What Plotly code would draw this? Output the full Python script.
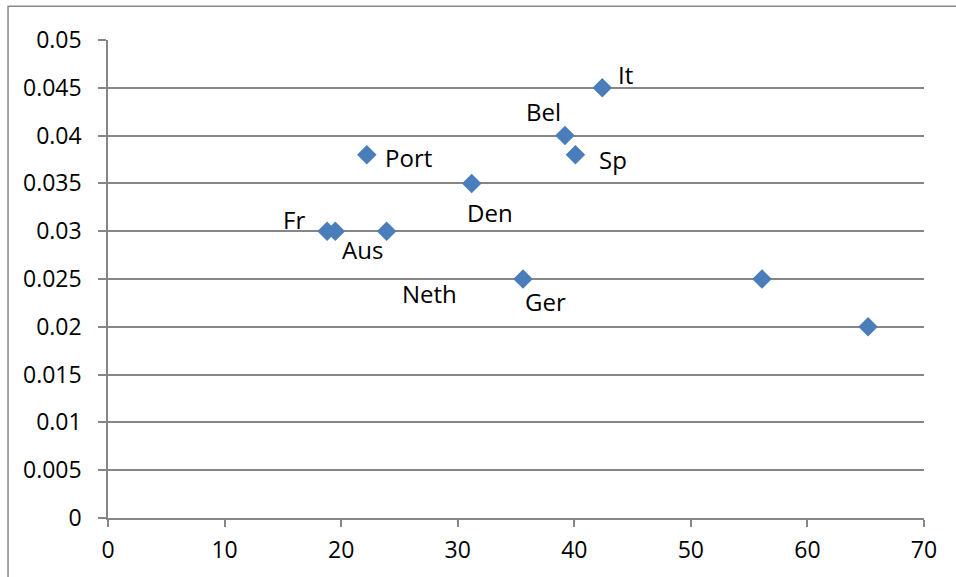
import plotly.graph_objects as go

# ---- data ----
x_vals = [18.8, 19.5, 23.9, 22.2, 31.2, 35.6, 39.2, 40.1, 42.4, 56.1, 65.2]
y_vals = [0.030, 0.030, 0.030, 0.038, 0.035, 0.025, 0.040, 0.038, 0.045, 0.025, 0.020]
point_labels = ["Fr", "Aus", "Neth", "Port", "Den", "Ger", "Bel", "Sp", "It", "", ""]
y_tick_vals = [0, 0.005, 0.01, 0.015, 0.02, 0.025, 0.03, 0.035, 0.04, 0.045, 0.05]
y_tick_text = ["0", "0.005", "0.01", "0.015", "0.02", "0.025", "0.03", "0.035", "0.04", "0.045", "0.05"]
x_tick_vals = [0, 10, 20, 30, 40, 50, 60, 70]

# ---- label placement (pixel shifts from each point) ----
label_shifts = [(-33, 12), (27, -18), (43, -62), (42, -3), (18, -29),
                (23, -22), (-21, 24), (38, -5), (23, 13), (0, 0), (0, 0)]

FONT = "Open Sans"
GRID = "#868686"

fig = go.Figure()
fig.add_trace(go.Scatter(
    x=x_vals, y=y_vals, mode="markers",
    marker=dict(symbol="diamond", size=15, color="#4A7EBB",
                line=dict(width=0)),
    showlegend=False, hoverinfo="skip",
))

for xv, yv, lab, (dx, dy) in zip(x_vals, y_vals, point_labels, label_shifts):
    if lab:
        fig.add_annotation(x=xv, y=yv, text=lab, showarrow=False,
                           xshift=dx, yshift=dy,
                           font=dict(family=FONT, size=24, color="#000000"))

# chart-area border (cropped on right/bottom like the reference)
fig.add_shape(type="rect", xref="paper", yref="paper",
              x0=-0.1225, x1=1.08, y0=-0.16, y1=1.0708,
              line=dict(color="#898989", width=1.5), fillcolor="rgba(0,0,0,0)",
              layer="below")

fig.update_layout(
    width=956, height=577,
    margin=dict(l=108, r=32, t=40, b=57),
    paper_bgcolor="white", plot_bgcolor="white",
    font=dict(family=FONT, size=23, color="#000000"),
    xaxis=dict(range=[0, 70], tickvals=x_tick_vals, showgrid=False,
               zeroline=False, showline=True, linecolor=GRID, linewidth=1.5,
               ticks="outside", ticklen=7, tickcolor=GRID, tickwidth=1.5,
               tickfont=dict(family=FONT, size=23), ticklabelstandoff=4),
    yaxis=dict(range=[0, 0.05], tickvals=y_tick_vals, ticktext=y_tick_text,
               showgrid=True, gridcolor=GRID, gridwidth=1.5,
               zeroline=False, showline=True, linecolor=GRID, linewidth=1.5,
               ticks="outside", ticklen=8, tickcolor=GRID, tickwidth=1.5,
               tickfont=dict(family=FONT, size=23), ticklabelstandoff=12),
)

fig.write_html("out.html",
               config={"displayModeBar": False},
               post_script="document.body.style.margin='0';document.body.style.overflow='hidden';")
